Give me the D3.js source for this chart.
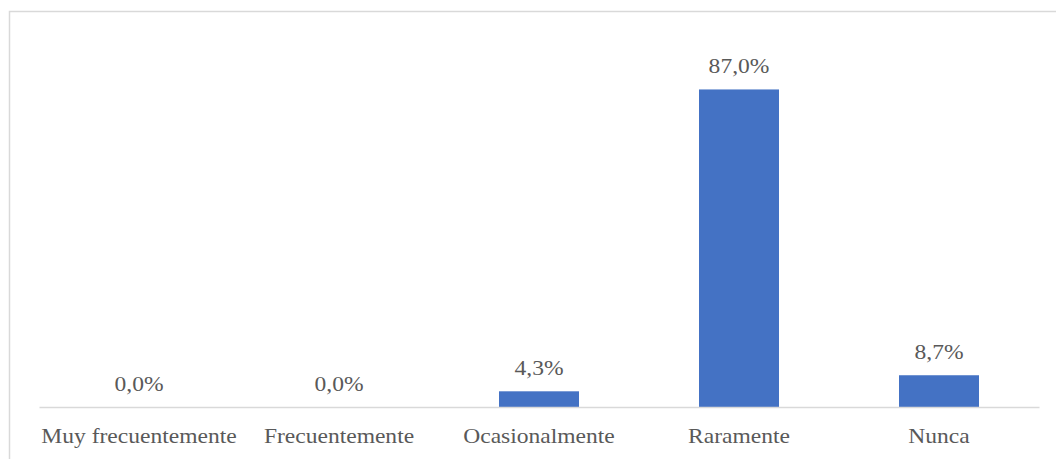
<!DOCTYPE html>
<html>
<head>
<meta charset="utf-8">
<script src="https://cdn.jsdelivr.net/npm/d3@7"></script>
<style>
  html, body { margin: 0; padding: 0; background: #fff; }
  svg { display: block; }
  text { font-family: "Liberation Serif", "Times New Roman", serif; fill: #595959; }
</style>
</head>
<body>
<svg id="chart" width="1056" height="459"></svg>
<script>
const categories = ["Muy frecuentemente", "Frecuentemente", "Ocasionalmente", "Raramente", "Nunca"];
const values = [0.0, 0.0, 4.3, 87.0, 8.7];
const valueLabels = ["0,0%", "0,0%", "4,3%", "87,0%", "8,7%"];

const svg = d3.select("#chart");

// outer chart border (right/bottom edges fall outside the picture)
svg.append("rect")
  .attr("x", 9.5).attr("y", 11.5)
  .attr("width", 1200).attr("height", 600)
  .attr("fill", "none").attr("stroke", "#d9d9d9").attr("stroke-width", 1.5);

const x = d3.scaleBand().domain(categories).range([39, 1039]).paddingInner(0.6).paddingOuter(0.3);
const y = d3.scaleLinear().domain([0, 100]).range([407, 42]);

const fs = 22, sx = 1.07;

svg.selectAll("rect.bar").data(values).enter().append("rect")
  .attr("class", "bar")
  .attr("x", (d, i) => x(categories[i]))
  .attr("y", d => y(d))
  .attr("width", x.bandwidth())
  .attr("height", d => y(0) - y(d))
  .attr("fill", "#4472C4");

// baseline axis
const axis = d3.axisBottom(x).tickSize(0).tickPadding(0);
const gx = svg.append("g").attr("transform", `translate(0,${y(0)})`).call(axis);
gx.select(".domain").attr("stroke", "#d9d9d9").attr("stroke-width", 1.5);
gx.selectAll(".tick text").remove();
gx.selectAll(".tick").each(function(d) {
  d3.select(this).append("text")
    .attr("transform", `translate(0,35.5) scale(${sx},1)`)
    .attr("text-anchor", "middle")
    .attr("font-size", fs)
    .text(d);
});

// value labels
values.forEach((v, i) => {
  const cx = x(categories[i]) + x.bandwidth() / 2;
  svg.append("text")
    .attr("transform", `translate(${cx},${y(v) - 16}) scale(${sx},1)`)
    .attr("text-anchor", "middle")
    .attr("font-size", fs)
    .text(valueLabels[i]);
});
</script>
</body>
</html>
